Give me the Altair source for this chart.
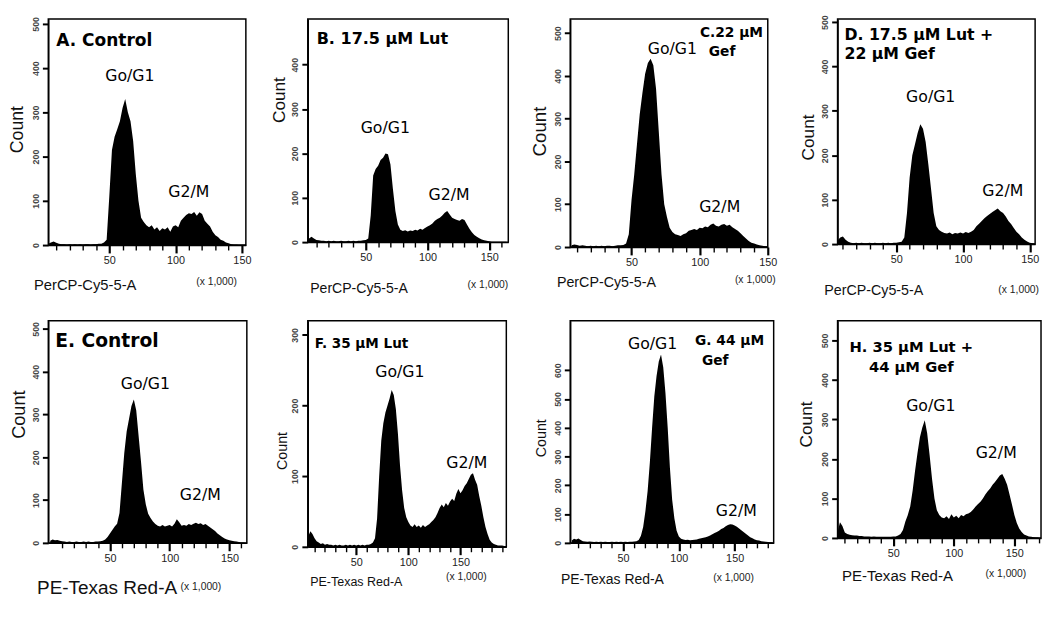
import altair as alt
import pandas as pd

BIN_WIDTH = 2  # x units (x 1,000)

# ---- histogram counts (bin centres start at *_start, step BIN_WIDTH) ----
A_start = 4
A_counts = [3, 6, 8, 5, 3, 2, 2, 1, 2, 1,
            2, 1, 2, 1, 2, 2, 1, 2, 2, 3,
            3, 6, 12, 110, 215, 245, 262, 280, 310, 330,
            300, 280, 235, 160, 100, 62, 52, 45, 40, 45,
            35, 40, 32, 38, 35, 40, 30, 42, 45, 40,
            55, 62, 68, 72, 70, 75, 66, 74, 70, 55,
            48, 42, 30, 22, 18, 12, 10, 6, 4, 2,
            1, 1, 0, 0]

B_start = 2
B_counts = [4, 8, 12, 8, 5, 4, 3, 3, 2, 3,
            2, 3, 2, 2, 3, 2, 2, 3, 2, 3,
            2, 3, 3, 4, 5, 8, 60, 150, 165, 172,
            185, 190, 200, 198, 175, 120, 70, 40, 28, 25,
            27, 24, 26, 25, 28, 26, 30, 28, 32, 35,
            38, 42, 48, 52, 55, 60, 66, 70, 62, 55,
            52, 50, 48, 52, 50, 40, 30, 22, 16, 12,
            9, 6, 4, 3, 2, 1, 1, 1, 1, 1,
            1, 1]

C_start = 6
C_counts = [4, 6, 5, 3, 4, 3, 2, 3, 2, 3,
            2, 3, 2, 3, 3, 2, 3, 4, 4, 5,
            8, 30, 110, 170, 240, 310, 360, 405, 430, 440,
            425, 370, 270, 170, 100, 70, 45, 35, 30, 28,
            26, 30, 32, 38, 40, 42, 40, 45, 44, 48,
            46, 52, 55, 50, 48, 52, 54, 50, 52, 46,
            42, 38, 32, 26, 20, 14, 10, 8, 6, 4,
            3, 2, 2]

D_start = 6
D_counts = [8, 15, 17, 10, 5, 3, 2, 3, 2, 3,
            2, 2, 3, 2, 3, 2, 2, 3, 2, 3,
            2, 3, 3, 4, 5, 15, 70, 150, 200, 225,
            250, 270, 260, 230, 180, 125, 70, 40, 32, 28,
            25, 24, 26, 22, 25, 24, 26, 24, 27, 25,
            28, 32, 40, 46, 52, 58, 63, 68, 72, 76,
            80, 74, 70, 62, 52, 45, 36, 28, 22, 15,
            10, 6, 3, 2, 1]

E_start = 0
E_counts = [5, 8, 6, 7, 5, 4, 3, 2, 3, 2,
            2, 3, 2, 2, 3, 2, 3, 2, 2, 3,
            3, 4, 5, 8, 14, 22, 30, 38, 45, 70,
            140, 210, 260, 290, 320, 335, 310, 250, 190, 125,
            90, 68, 58, 50, 44, 40, 38, 42, 38, 40,
            42, 38, 45, 55, 48, 40, 42, 40, 44, 42,
            45, 47, 44, 46, 42, 44, 40, 36, 32, 28,
            22, 18, 14, 10, 8, 6, 5, 4, 3, 2,
            1, 1, 0]

F_start = 4
F_counts = [15, 22, 18, 12, 8, 6, 4, 5, 3, 4,
            3, 3, 2, 3, 2, 3, 2, 2, 3, 2,
            3, 2, 3, 2, 3, 2, 3, 2, 3, 3,
            4, 6, 12, 40, 100, 150, 175, 190, 200, 210,
            222, 215, 195, 160, 115, 80, 55, 42, 35, 30,
            28, 32, 28, 30, 27, 31, 28, 30, 32, 35,
            38, 42, 48, 55, 60, 56, 62, 58, 64, 68,
            65, 75, 82, 76, 80, 86, 90, 96, 102, 104,
            95, 88, 72, 58, 42, 28, 18, 10, 6, 4,
            3, 2, 2, 2, 1]

G_start = 4
G_counts = [8, 14, 12, 15, 10, 6, 5, 4, 5, 4,
            3, 4, 3, 4, 3, 4, 3, 3, 4, 3,
            4, 3, 4, 3, 4, 3, 4, 4, 5, 6,
            10, 25, 55, 110, 180, 280, 400, 510, 580, 630,
            655, 610, 520, 400, 260, 150, 85, 42, 22, 14,
            12, 10, 11, 9, 10, 11, 12, 14, 16, 18,
            20, 22, 26, 30, 34, 38, 42, 48, 52, 58,
            62, 65, 64, 60, 56, 50, 44, 38, 32, 26,
            20, 16, 12, 9, 8, 6, 5, 4, 3, 2,
            2]

H_start = 4
H_counts = [15, 40, 30, 14, 10, 8, 7, 6, 6, 5,
            5, 4, 4, 4, 3, 4, 3, 3, 3, 3,
            3, 3, 3, 4, 4, 6, 10, 20, 42, 58,
            80, 120, 170, 215, 255, 280, 298, 265, 210, 150,
            100, 70, 58, 52, 50, 55, 48, 60, 52, 56,
            50, 58, 55, 60, 62, 66, 72, 80, 86, 92,
            100, 110, 118, 125, 135, 142, 150, 158, 162, 150,
            135, 110, 85, 58, 38, 24, 15, 9, 6, 4,
            3, 2, 1, 1]

# ---- peak labels (data units) ----
PEAK_LABELS = ["Go/G1", "G2/M"]
A_peaks = [(65.5, 381), (110, 119)]
B_peaks = [(65.8, 256), (117.5, 105)]
C_peaks = [(80, 462), (114.7, 94)]
D_peaks = [(75.8, 330), (129.8, 120)]
E_peaks = [(79.7, 372), (125.7, 112)]
F_peaks = [(91.9, 248), (156, 118)]
G_peaks = [(76.5, 690), (151.5, 111)]
H_peaks = [(81, 334), (135, 214)]

# ---- text ----
A_title = ["A. Control"]
B_title = ["B. 17.5 µM Lut"]
C_title = ["C.22 µM", "Gef"]
D_title = ["D. 17.5 µM Lut +", "22 µM Gef"]
E_title = ["E. Control"]
F_title = ["F. 35 µM Lut"]
G_title = ["G. 44 µM", "Gef"]
H_title = ["H. 35 µM Lut +", "44 µM Gef"]
TOP_XTITLE = "PerCP-Cy5-5-A"
BOTTOM_XTITLE = "PE-Texas Red-A"
UNIT_TEXT = "(x 1,000)"
Y_TITLE = "Count"

# ---- per-panel layout / style ----
LAYOUT = {
    "A": dict(w=201, h=230, xdom=[4, 153], ydom=[0, 511], ymax=500,
              tpos=[(8, 22, "left")], tsize=17.3, xts=15, xtx=-15, xty=40,
              unit=(-9, 38), yts=18, ytx=-31, yty=112),
    "B": dict(w=204, h=227, xdom=[3, 165.5], ydom=[0, 503], ymax=400,
              tpos=[(9, 20, "left")], tsize=16.3, xts=14.3, xtx=2, xty=47,
              unit=(0, 44), yts=17.5, ytx=-29, yty=82),
    "C": dict(w=201, h=232, xdom=[5, 150], ydom=[0, 533], ymax=500,
              tpos=[(132, 14, "left"), (141, 34, "left")], tsize=14, xts=14.5, xtx=-14, xty=36,
              unit=(8, 34), yts=19, ytx=-31, yty=114),
    "D": dict(w=201, h=229, xdom=[6, 154], ydom=[0, 507], ymax=500,
              tpos=[(7, 16, "left"), (7, 36, "left")], tsize=16, xts=14.5, xtx=-14, xty=47,
              unit=(4, 47), yts=17.5, ytx=-29, yty=120),
    "E": dict(w=202, h=226, xdom=[-1.6, 164.6], ydom=[0, 519], ymax=500,
              tpos=[(7, 21, "left")], tsize=19, xts=19.3, xtx=-12, xty=46,
              unit=(-26, 45), yts=18.5, ytx=-30, yty=95),
    "F": dict(w=202, h=230, xdom=[3.5, 194], ydom=[0, 320], ymax=300,
              tpos=[(7, 24, "left")], tsize=13.8, xts=12.7, xtx=2, xty=35,
              unit=(-20, 31), yts=14.5, ytx=-26, yty=132),
    "G": dict(w=207, h=226, xdom=[2.6, 185], ydom=[0, 772], ymax=600,
              tpos=[(127, 21, "left"), (134, 41, "left")], tsize=14, xts=14.2, xtx=-10, xty=37,
              unit=(-20, 36), yts=14.5, ytx=-29, yty=119),
    "H": dict(w=207, h=221, xdom=[4, 172], ydom=[0, 550], ymax=500,
              tpos=[(75, 27, "center"), (75, 47, "center")], tsize=15, xts=15.3, xtx=4, xty=38,
              unit=(-15, 37), yts=17.5, ytx=-31, yty=105),
}

SANS = "Liberation Sans"
VERD = "DejaVu Sans"
MAJOR = "datum.value % 50 === 0"


def panel(start, counts, peaks, titles, xtitle, L):
    w, h = L["w"], L["h"]
    df = pd.DataFrame({"x": [start + BIN_WIDTH * i for i in range(len(counts))],
                       "count": counts})
    xs = alt.Scale(domain=L["xdom"], nice=False, zero=False)
    ys = alt.Scale(domain=L["ydom"], nice=False, zero=False)
    xaxis = alt.Axis(
        values=list(range(10, int(L["xdom"][1]) + 1, 10)),
        labelExpr=MAJOR + " ? datum.label : ''",
        labelOverlap=False, labelFlush=False,
        tickSize={"condition": {"test": MAJOR, "value": 8}, "value": 5},
        tickWidth={"condition": {"test": MAJOR, "value": 2.2}, "value": 1.4},
        tickColor="black",
        domainColor="black", domainWidth=1.5,
        labelFont=SANS, labelFontSize=11, labelColor="#222", labelPadding=2,
        grid=False,
        title=xtitle, titleFont=SANS, titleFontSize=L["xts"], titleFontWeight="normal",
        titleColor="#111", titleAlign="left", titleBaseline="middle",
        titleX=L["xtx"], titleY=L["xty"],
    )
    yaxis = alt.Axis(
        values=list(range(0, L["ymax"] + 1, 100)),
        labelAngle=270, labelAlign="center", labelBaseline="bottom",
        labelFont=SANS, labelFontSize=9, labelFontWeight="bold", labelColor="#444",
        labelPadding=2, labelOverlap=False, labelFlush=False,
        tickSize=6, tickWidth=2, tickColor="black",
        domainColor="black", domainWidth=1.5, grid=False,
        title=Y_TITLE, titleFont=SANS, titleFontSize=L["yts"], titleFontWeight="normal",
        titleColor="#111", titleAngle=270, titleAlign="center", titleBaseline="middle",
        titleX=L["ytx"], titleY=L["yty"],
    )
    area = alt.Chart(df).mark_area(color="black", clip=True, interpolate="linear").encode(
        x=alt.X("x:Q", scale=xs, axis=xaxis),
        y=alt.Y("count:Q", scale=ys, axis=yaxis),
    )
    pk = pd.DataFrame({"x": [p[0] for p in peaks], "count": [p[1] for p in peaks],
                       "label": PEAK_LABELS})
    ann = alt.Chart(pk).mark_text(font=VERD, fontSize=16, color="black", baseline="middle").encode(
        x=alt.X("x:Q", scale=xs, axis=xaxis),
        y=alt.Y("count:Q", scale=ys, axis=yaxis),
        text="label:N")
    layers = [area, ann]
    for line, (px, py, al) in zip(titles, L["tpos"]):
        layers.append(
            alt.Chart(pd.DataFrame({"t": [line]})).mark_text(
                font=VERD, fontWeight="bold", fontSize=L["tsize"], color="black",
                align=al, baseline="middle").encode(
                x=alt.value(px), y=alt.value(py), text="t:N"))
    ux, uy = L["unit"]
    layers.append(
        alt.Chart(pd.DataFrame({"t": [UNIT_TEXT]})).mark_text(
            font=SANS, fontSize=10.5, color="#222", align="right", baseline="middle").encode(
            x=alt.value(w + ux), y=alt.value(h + uy), text="t:N"))
    return alt.layer(*layers).properties(
        width=w, height=h, view=alt.ViewBackground(stroke="black", strokeWidth=1.5))


def spacer(w):
    return alt.Chart(pd.DataFrame({"s": [0]})).mark_point(opacity=0).encode(
        x=alt.X("s:Q", axis=None), y=alt.Y("s:Q", axis=None)
    ).properties(width=w, height=1, view=alt.ViewBackground(stroke="transparent"))


pA = panel(A_start, A_counts, A_peaks, A_title, TOP_XTITLE, LAYOUT["A"])
pB = panel(B_start, B_counts, B_peaks, B_title, TOP_XTITLE, LAYOUT["B"])
pC = panel(C_start, C_counts, C_peaks, C_title, TOP_XTITLE, LAYOUT["C"])
pD = panel(D_start, D_counts, D_peaks, D_title, TOP_XTITLE, LAYOUT["D"])
pE = panel(E_start, E_counts, E_peaks, E_title, BOTTOM_XTITLE, LAYOUT["E"])
pF = panel(F_start, F_counts, F_peaks, F_title, BOTTOM_XTITLE, LAYOUT["F"])
pG = panel(G_start, G_counts, G_peaks, G_title, BOTTOM_XTITLE, LAYOUT["G"])
pH = panel(H_start, H_counts, H_peaks, H_title, BOTTOM_XTITLE, LAYOUT["H"])

cells = [spacer(4), pA, spacer(62), pB, spacer(54), pC, spacer(65), pD,
         spacer(1), pE, spacer(60), pF, spacer(63), pG, spacer(50), pH]

chart = alt.concat(
    *cells, columns=8, spacing=alt.RowColnumber(row=75, column=0),
    bounds="flush", align="none",
).resolve_scale(
    x="independent", y="independent"
).properties(
    padding={"left": 0, "top": 0, "right": 0, "bottom": 0},
    background="white",
).configure_view(stroke="transparent")

chart.save("out.html", embed_options={"renderer": "svg", "actions": False})
